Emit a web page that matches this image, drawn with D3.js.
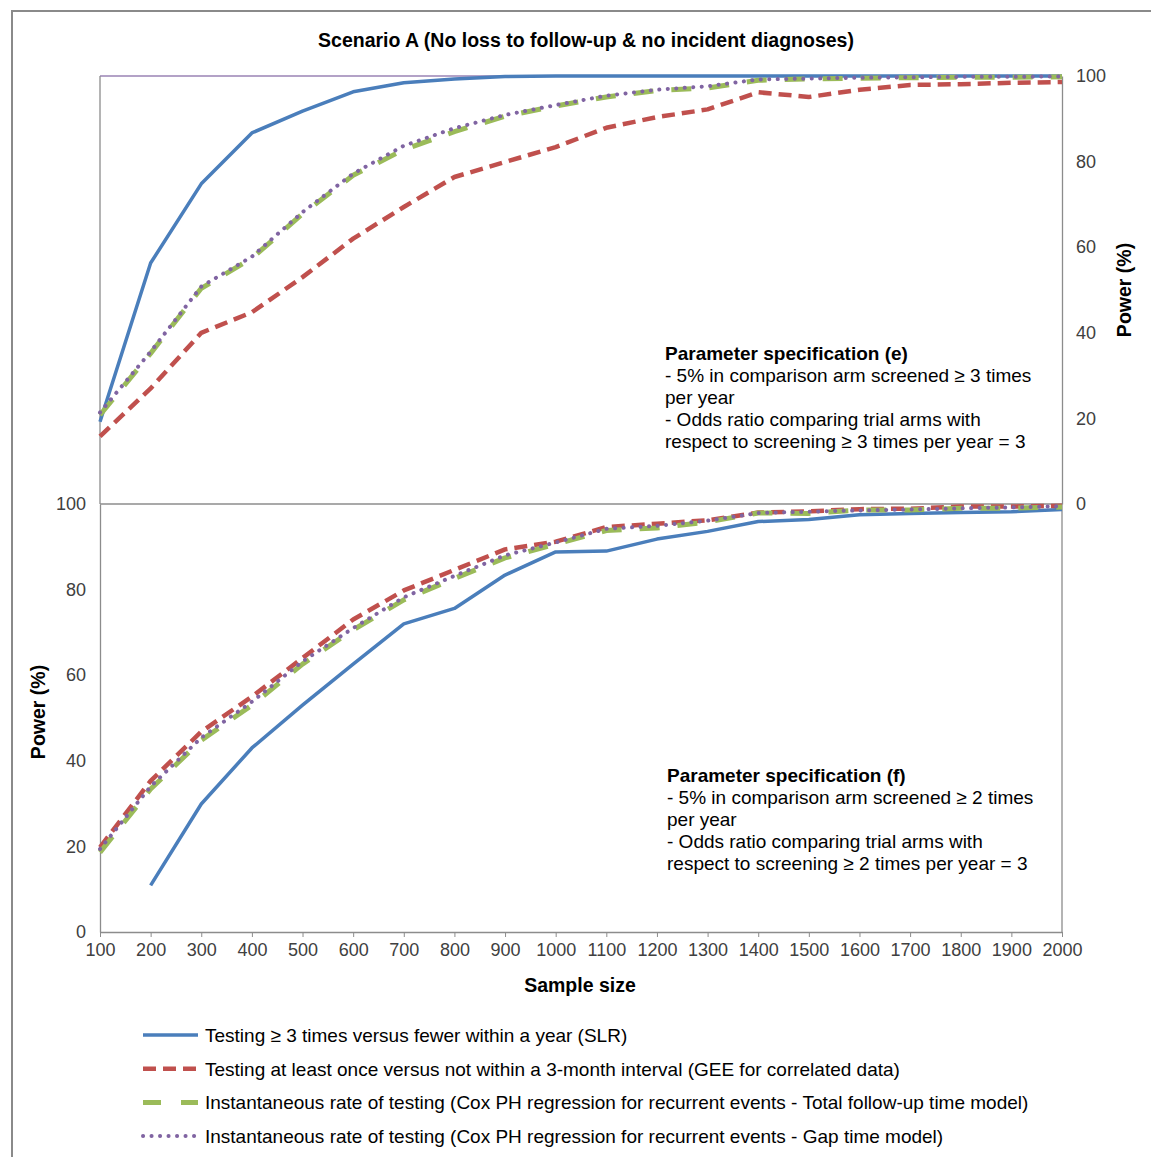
<!DOCTYPE html>
<html lang="en">
<head>
<meta charset="utf-8">
<title>Scenario A power curves</title>
<script src="https://cdn.jsdelivr.net/npm/d3@7/dist/d3.min.js"></script>
<style>
  body { margin: 0; background: #fff; }
  svg text { font-family: "Liberation Sans", Arial, sans-serif; }
</style>
</head>
<body>
<svg width="1151" height="1157"></svg>
<script>
// sample sizes (categories on the x axis)
var sampleSizes = [100, 200, 300, 400, 500, 600, 700, 800, 900, 1000,
                   1100, 1200, 1300, 1400, 1500, 1600, 1700, 1800, 1900, 2000];
var powerTicks = [0, 20, 40, 60, 80, 100];

// panel (e) - top
var eSLR      = [19.2, 56.3, 74.8, 86.7, 91.8, 96.3, 98.4, 99.3, 99.9, 100, 100, 100, 100, 100, 100, 100, 100, 100, 100, 100];
var eGEE      = [15.8, 27.0, 40.0, 44.8, 53.0, 62.0, 69.4, 76.4, 79.9, 83.4, 87.9, 90.4, 92.2, 96.2, 95.1, 96.8, 97.9, 98.1, 98.4, 98.6];
var eCoxTotal = [20.8, 35.2, 50.4, 57.4, 67.8, 76.8, 82.8, 87.0, 90.6, 93.0, 95.1, 96.6, 97.2, 99.0, 99.3, 99.5, 99.6, 99.7, 99.7, 99.8];
var eCoxGap   = [21.4, 35.6, 50.8, 57.8, 68.2, 77.2, 83.7, 87.8, 90.9, 93.2, 95.4, 96.8, 97.6, 99.2, 99.4, 99.6, 99.7, 99.8, 99.8, 99.9];

// panel (f) - bottom
var fSLR      = [null, 10.9, 29.9, 43.0, 53.0, 62.6, 72.0, 75.6, 83.4, 88.8, 89.0, 91.8, 93.6, 95.9, 96.4, 97.5, 97.8, 98.0, 98.2, 98.7];
var fGEE      = [19.8, 35.3, 46.8, 55.0, 64.0, 73.0, 79.8, 84.6, 89.4, 91.2, 94.6, 95.4, 96.2, 98.0, 98.3, 98.8, 98.9, 99.4, 99.4, 99.6];
var fCoxTotal = [18.6, 33.4, 44.8, 53.0, 62.6, 70.6, 77.6, 82.6, 87.4, 90.6, 93.8, 94.4, 95.8, 97.9, 97.8, 98.6, 98.6, 99.0, 99.0, 99.3];
var fCoxGap   = [19.4, 34.0, 45.4, 53.8, 63.2, 71.0, 78.2, 83.2, 88.0, 91.0, 94.2, 94.9, 96.1, 97.9, 98.2, 98.5, 98.7, 99.0, 99.2, 99.5];

var legendLabels = [
  "Testing \u2265 3 times versus fewer within a year (SLR)",
  "Testing at least once versus not within a 3-month interval (GEE for correlated data)",
  "Instantaneous rate of testing (Cox PH regression for recurrent events - Total follow-up time model)",
  "Instantaneous rate of testing (Cox PH regression for recurrent events - Gap time model)"
];
var noteE = ["Parameter specification (e)",
  "- 5% in comparison arm screened \u2265 3 times",
  "per year",
  "- Odds ratio comparing trial arms with",
  "respect to screening \u2265 3 times per year = 3"];
var noteF = ["Parameter specification (f)",
  "- 5% in comparison arm screened \u2265 2 times",
  "per year",
  "- Odds ratio comparing trial arms with",
  "respect to screening \u2265 2 times per year = 3"];

// series styles
var styles = [
  { color: "#4A7EBB", width: 3.5, dash: null, cap: "butt" },
  { color: "#C0504D", width: 4.5, dash: "13,7", cap: "butt" },
  { color: "#9BBB59", width: 5, dash: "20,18", cap: "butt" },
  { color: "#8064A2", width: 4, dash: "0.1,8.4", cap: "round" }
];

var svg = d3.select("svg");
var left = 100, right = 1062;
var topY0 = 76, topY1 = 504, botY0 = 504, botY1 = 932;
var grey = "#8c8c8c";
var txt = "#404040";

// outer frame
svg.append("rect")
  .attr("x", 12).attr("y", 11)
  .attr("width", 1160).attr("height", 1170)
  .attr("fill", "none").attr("stroke", "#8a8a8a").attr("stroke-width", 2);

// title
svg.append("text")
  .attr("x", 586).attr("y", 47)
  .attr("text-anchor", "middle")
  .style("font-size", "19.5px").style("font-weight", "bold")
  .text("Scenario A (No loss to follow-up & no incident diagnoses)");

var x = d3.scalePoint()
  .domain(sampleSizes)
  .range([left, right])
  .padding(0);

var yTop = d3.scaleLinear().domain([0, 100]).range([topY1, topY0]);
var yBot = d3.scaleLinear().domain([0, 100]).range([botY1, botY0]);

// top panel frame
svg.append("line")
  .attr("x1", left).attr("x2", right).attr("y1", topY0).attr("y2", topY0)
  .attr("stroke", "#B3A2C7").attr("stroke-width", 2);
svg.append("line")
  .attr("x1", left).attr("x2", left).attr("y1", topY0).attr("y2", topY1)
  .attr("stroke", grey).attr("stroke-width", 1.3);

// right axis of top panel
var axisRight = d3.axisRight(yTop).tickValues(powerTicks).tickSize(0).tickPadding(14);
var gR = svg.append("g").attr("transform", "translate(" + right + ",0)").call(axisRight);
gR.select(".domain").attr("stroke", grey).attr("stroke-width", 1.3);
gR.selectAll("text").attr("fill", txt).style("font-size", "18px");

svg.append("text")
  .attr("transform", "translate(1131,290) rotate(-90)")
  .attr("text-anchor", "middle")
  .style("font-size", "19.5px").style("font-weight", "bold")
  .text("Power (%)");

// bottom panel frame
svg.append("line")
  .attr("x1", left).attr("x2", right).attr("y1", botY0).attr("y2", botY0)
  .attr("stroke", grey).attr("stroke-width", 1.3);
svg.append("line")
  .attr("x1", right).attr("x2", right).attr("y1", botY0).attr("y2", botY1)
  .attr("stroke", grey).attr("stroke-width", 1.3);

var axisLeft = d3.axisLeft(yBot).tickValues(powerTicks).tickSize(0).tickPadding(14);
var gL = svg.append("g").attr("transform", "translate(" + left + ",0)").call(axisLeft);
gL.select(".domain").attr("stroke", grey).attr("stroke-width", 1.3);
gL.selectAll("text").attr("fill", txt).style("font-size", "18px");

var axisBottom = d3.axisBottom(x).tickSize(5).tickPadding(6).tickSizeOuter(0);
var gB = svg.append("g").attr("transform", "translate(0," + botY1 + ")").call(axisBottom);
gB.select(".domain").attr("stroke", grey).attr("stroke-width", 1.3);
gB.selectAll(".tick line").attr("stroke", grey);
gB.selectAll("text").attr("fill", txt).style("font-size", "18px");

svg.append("text")
  .attr("transform", "translate(45,712) rotate(-90)")
  .attr("text-anchor", "middle")
  .style("font-size", "19.5px").style("font-weight", "bold")
  .text("Power (%)");

svg.append("text")
  .attr("x", 580).attr("y", 992)
  .attr("text-anchor", "middle")
  .style("font-size", "19.5px").style("font-weight", "bold")
  .text("Sample size");

// curves
function drawPanel(series, y) {
  var line = d3.line()
    .defined(function (d) { return d !== null; })
    .x(function (d, i) { return x(sampleSizes[i]); })
    .y(function (d) { return y(d); });
  series.forEach(function (s, k) {
    svg.append("path")
      .datum(s)
      .attr("d", line)
      .attr("fill", "none")
      .attr("stroke", styles[k].color)
      .attr("stroke-width", styles[k].width)
      .attr("stroke-dasharray", styles[k].dash)
      .attr("stroke-linecap", styles[k].cap)
      .attr("stroke-linejoin", "round");
  });
}
drawPanel([eSLR, eGEE, eCoxTotal, eCoxGap], yTop);
drawPanel([fSLR, fGEE, fCoxTotal, fCoxGap], yBot);

// notes
function drawNote(lines, x0, y0) {
  var t = svg.append("text").style("font-size", "19px").attr("fill", "#000");
  lines.forEach(function (s, i) {
    t.append("tspan")
      .attr("x", x0).attr("y", y0 + i * 22)
      .style("font-weight", i === 0 ? "bold" : "normal")
      .text(s);
  });
}
drawNote(noteE, 665, 360);
drawNote(noteF, 667, 782);

// legend
var legend = svg.append("g");
legendLabels.forEach(function (lab, i) {
  var ly = 1035 + i * 33.7;
  legend.append("line")
    .attr("x1", 143).attr("x2", 198).attr("y1", ly).attr("y2", ly)
    .attr("stroke", styles[i].color)
    .attr("stroke-width", styles[i].width)
    .attr("stroke-dasharray", i === 2 ? "18,20" : styles[i].dash)
    .attr("stroke-linecap", styles[i].cap);
  legend.append("text")
    .attr("x", 205).attr("y", ly + 7)
    .style("font-size", "19px").attr("fill", "#000")
    .text(lab);
});
</script>
</body>
</html>
